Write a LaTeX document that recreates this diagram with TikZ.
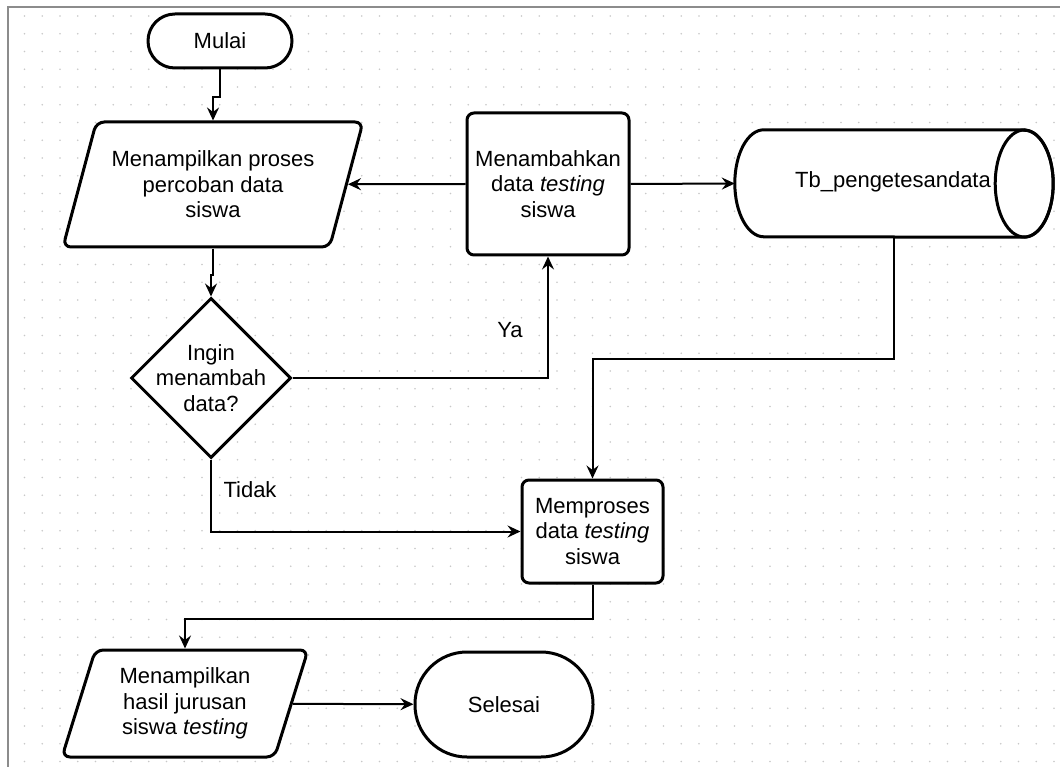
\documentclass[tikz,border=0pt]{standalone}
\usepackage{fontspec}
\setmainfont{Liberation Sans}
\usetikzlibrary{shapes.geometric,arrows.meta}
\definecolor{dotc}{HTML}{C8C8C8}
\definecolor{framec}{HTML}{8C8C8C}
\begin{document}
\begin{tikzpicture}[x=1pt,y=-1pt,
  txt/.style={font=\fontsize{22}{25.5}\selectfont, align=center, text=black, inner sep=0pt},
  shp/.style={txt, draw=black, line width=3pt, fill=white},
  conn/.style={line width=2pt, draw=black},
  arr/.style={conn, -{Stealth[length=13pt,width=12pt,inset=4.5pt]}},
  term/.style={shp, rectangle},
  proc/.style={shp, rectangle, rounded corners=7pt},
  io/.style={shp, trapezium, trapezium stretches body=true, rounded corners=8pt},
  dec/.style={shp, diamond, aspect=1},
  lbl/.style={txt}
]
\useasboundingbox (0,0) rectangle (1060,767);
\fill[white] (0,0) rectangle (1060,767);
% dotted grid
\foreach \i in {0,...,58}{
  \foreach \j in {0,...,42}{
    \fill[dotc] (24.5+17.75*\i, 16+17.75*\j) circle[radius=0.9pt];
  }
}
% frame
\draw[framec, line width=2pt] (8,767) -- (8,7) -- (1060,7);

% nodes
\node[term, minimum width=144pt, minimum height=54pt, rounded corners=26.9pt] (mulai) at (220,41) {Mulai};
\node[io, minimum width=300pt, minimum height=125pt, trapezium left angle=63.6, trapezium right angle=116.4] (par1) at (213,184.5)
  {Menampilkan proses\\percoban data\\siswa};
\node[proc, minimum width=162pt, minimum height=142pt] (box1) at (548,184)
  {Menambahkan\\data \textit{testing}\\siswa};
\node[inner sep=0pt, minimum width=318pt, minimum height=107pt] (cyl) at (894,183.5) {};
\filldraw[fill=white, draw=black, line width=3pt]
  ([xshift=-29pt]cyl.north east) -- ([xshift=29pt]cyl.north west)
  arc[start angle=270, end angle=90, x radius=29, y radius=53.5]
  -- ([xshift=-29pt]cyl.south east)
  arc[start angle=90, end angle=-90, x radius=29, y radius=53.5] -- cycle;
\draw[line width=3pt] ([xshift=-29pt]cyl.east) ellipse[x radius=29, y radius=53.5];
\node[txt] (cyltext) at (893,182) {Tb\_pengetesandata};

\node[dec, minimum width=160pt, minimum height=160pt] (dia) at (211,378) {};
\node[txt] (diatext) at (dia.center) {Ingin\\menambah\\data?};

\node[proc, minimum width=141pt, minimum height=103pt] (box2) at (592.5,531.5)
  {Memproses\\data \textit{testing}\\siswa};
\node[io, minimum width=246pt, minimum height=107pt, trapezium left angle=65, trapezium right angle=115] (par2) at (185,703.5)
  {Menampilkan\\hasil jurusan\\siswa \textit{testing}};
\node[term, minimum width=178pt, minimum height=105pt, rounded corners=52pt] (selesai) at (504,704.5) {Selesai};

\node[lbl] (ya) at (510,330) {Ya};
\node[lbl] (tidak) at (250,490) {Tidak};

% connectors
\draw[arr] (mulai.south) -- ++(0,28) -| (par1.north);
\draw[arr] (par1.south) -- ++(0,26) -| (dia.north);
\draw[arr] (dia.east) -| (box1.south);
\draw[arr] (dia.south) |- (box2.west);
\draw[arr] (box1.west) -- (par1);
\draw[arr] (box1.east) -- (cyl.west);
\draw[arr] (cyl.south) -- ++(0,122) -| (box2.north);
\draw[arr] (box2.south) -- ++(0,34) -| (par2.north);
\draw[arr] (par2) -- (selesai);
\end{tikzpicture}
\end{document}
